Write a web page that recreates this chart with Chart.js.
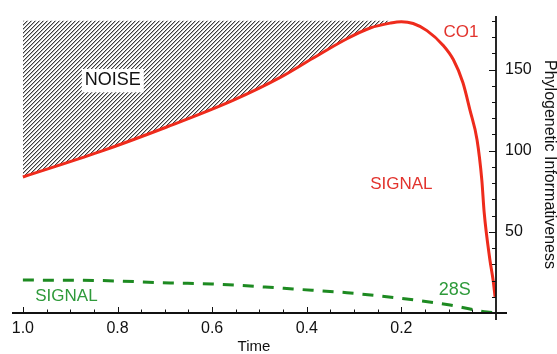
<!DOCTYPE html>
<html>
<head>
<meta charset="utf-8">
<script src="https://cdn.jsdelivr.net/npm/chart.js@4.4.1/dist/chart.umd.min.js"></script>
<style>
  html, body { margin: 0; padding: 0; background: #fff; }
  #wrap { width: 557px; height: 354px; }
</style>
</head>
<body>
<div id="wrap"><canvas id="chart" width="557" height="354"></canvas></div>
<script>
// time runs from 1.0 (left) down to 0.0 (right)
const co1Time  = [1.0, 0.837, 0.696, 0.556, 0.457, 0.387, 0.315, 0.266, 0.224, 0.2, 0.175, 0.146, 0.112, 0.09, 0.07, 0.055, 0.04, 0.03, 0.025, 0.013, 0.006, 0.002];
const co1Value = [83.8, 99.4, 114.6, 131, 145, 157, 169, 175.6, 178.6, 179.5, 178.4, 174, 165, 156, 142, 125, 106.6, 82, 62, 33, 20, 10];

const s28Time  = [1.0, 0.837, 0.689, 0.6, 0.488, 0.429, 0.315, 0.203, 0.097, 0.044, 0.019, 0.0];
const s28Value = [20.3, 20, 18.5, 17.9, 16, 14.8, 12.5, 9.1, 4.9, 1.8, 0.6, 0];

const noiseTop = 180;     // hatched region reaches up to this value
const noiseUntil = 0.224; // hatch stops where CO1 meets the top

const xTickLabels = [1.0, 0.8, 0.6, 0.4, 0.2];
const yTickLabels = [50, 100, 150];

const yMax = 183;
const xMax = 1.023;

// text written inside the plot: [text, time, value, colour, size, boxed]
const notes = [
  ['NOISE', 0.81, 143.5, '#111', 18, true],
  ['CO1', 0.074, 173, '#e2332d', 17, false],
  ['SIGNAL', 0.2, 79, '#e2332d', 17, false],
  ['SIGNAL', 0.908, 10.5, '#2e9a3a', 17, false],
  ['28S', 0.087, 14, '#2e9a3a', 18, false]
];

const FONT = '"Liberation Sans", Arial, Helvetica, sans-serif';

function makeHatch() {
  const c = document.createElement('canvas');
  c.width = 4; c.height = 4;
  const g = c.getContext('2d');
  g.fillStyle = '#fff';
  g.fillRect(0, 0, 4, 4);
  for (let i = 0; i < 4; i++) {
    g.fillStyle = '#3c3c3c';
    g.fillRect(i, 3 - i, 1, 1);
    g.fillStyle = '#b4b4b4';
    g.fillRect((i + 1) % 4, 3 - i, 1, 1);
  }
  return g.createPattern(c, 'repeat');
}

const co1Points = co1Time.map((t, i) => ({x: t, y: co1Value[i]}));
const s28Points = s28Time.map((t, i) => ({x: t, y: s28Value[i]}));
const noisePoints = co1Points.filter(p => p.x >= noiseUntil);

// axes crossing at time 0, ticks pointing inward, labels in the plot
const decor = {
  id: 'decor',
  afterDatasetsDraw(chart) {
    const {ctx, chartArea: a, scales: {x, y}} = chart;
    const x0 = x.getPixelForValue(0);
    const y0 = y.getPixelForValue(0);
    ctx.save();

    ctx.strokeStyle = '#111';
    ctx.lineWidth = 1;
    ctx.beginPath();
    for (let k = 1; k <= 20; k++) {
      const px = Math.round(x.getPixelForValue(k / 20)) + 0.5;
      const len = k % 4 === 0 ? 6 : 3.5;
      ctx.moveTo(px, y0);
      ctx.lineTo(px, y0 - len);
    }
    for (let v = 10; v <= 180; v += 10) {
      const py = Math.round(y.getPixelForValue(v)) + 0.5;
      const len = v % 50 === 0 ? 7 : 4;
      ctx.moveTo(x0, py);
      ctx.lineTo(x0 - len, py);
    }
    ctx.stroke();

    ctx.lineWidth = 1.8;
    ctx.beginPath();
    ctx.moveTo(a.left, y0);
    ctx.lineTo(x0 + 11, y0);
    ctx.moveTo(x0, y.getPixelForValue(yMax));
    ctx.lineTo(x0, y0 + 7);
    ctx.stroke();

    ctx.textAlign = 'center';
    ctx.textBaseline = 'middle';
    notes.forEach(([text, t, v, color, size, boxed]) => {
      const px = x.getPixelForValue(t);
      const py = y.getPixelForValue(v);
      ctx.font = size + 'px ' + FONT;
      if (boxed) {
        const w = ctx.measureText(text).width;
        ctx.fillStyle = '#fff';
        ctx.fillRect(px - w / 2 - 3, py - size * 0.62, w + 6, size * 1.3);
      }
      ctx.fillStyle = color;
      ctx.fillText(text, px, py);
    });
    ctx.restore();
  }
};

new Chart(document.getElementById('chart'), {
  type: 'line',
  data: {
    datasets: [
      {
        data: co1Points,
        borderColor: '#ee2b1c',
        borderWidth: 3,
        pointRadius: 0,
        cubicInterpolationMode: 'monotone',
        fill: false
      },
      {
        data: s28Points,
        borderColor: '#1d8a21',
        borderWidth: 3,
        borderDash: [11, 9],
        pointRadius: 0,
        cubicInterpolationMode: 'monotone',
        fill: false
      },
      {
        data: noisePoints,
        borderWidth: 0,
        borderColor: 'rgba(0,0,0,0)',
        backgroundColor: makeHatch(),
        pointRadius: 0,
        cubicInterpolationMode: 'monotone',
        fill: {value: noiseTop}
      }
    ]
  },
  options: {
    responsive: false,
    animation: false,
    layout: {padding: {left: 12, top: 16, right: 0, bottom: 0}},
    plugins: {legend: {display: false}, tooltip: {enabled: false}},
    scales: {
      x: {
        type: 'linear',
        reverse: true,
        min: 0,
        max: xMax,
        grid: {display: false},
        border: {display: false},
        afterFit: s => { s.height = 41; },
        afterBuildTicks: s => { s.ticks = xTickLabels.concat([0]).map(v => ({value: v})); },
        ticks: {
          includeBounds: false,
          color: '#111',
          font: {family: FONT, size: 16},
          padding: -2,
          maxRotation: 0,
          autoSkip: false,
          callback: v => v > 0.001 ? v.toFixed(1) : ''
        },
        title: {
          display: true,
          text: 'Time',
          color: '#111',
          font: {family: FONT, size: 15, lineHeight: 1},
          padding: 0
        }
      },
      y: {
        type: 'linear',
        position: 'right',
        min: 0,
        max: yMax,
        grid: {display: false},
        border: {display: false},
        afterFit: s => { s.width = 61; },
        afterBuildTicks: s => { s.ticks = yTickLabels.map(v => ({value: v})); },
        ticks: {
          includeBounds: false,
          color: '#111',
          font: {family: FONT, size: 16},
          padding: 1
        },
        title: {
          display: true,
          text: 'Phylogenetic Informativeness',
          color: '#111',
          font: {family: FONT, size: 16, lineHeight: 1},
          padding: 0
        }
      }
    }
  },
  plugins: [decor]
});
</script>
</body>
</html>
